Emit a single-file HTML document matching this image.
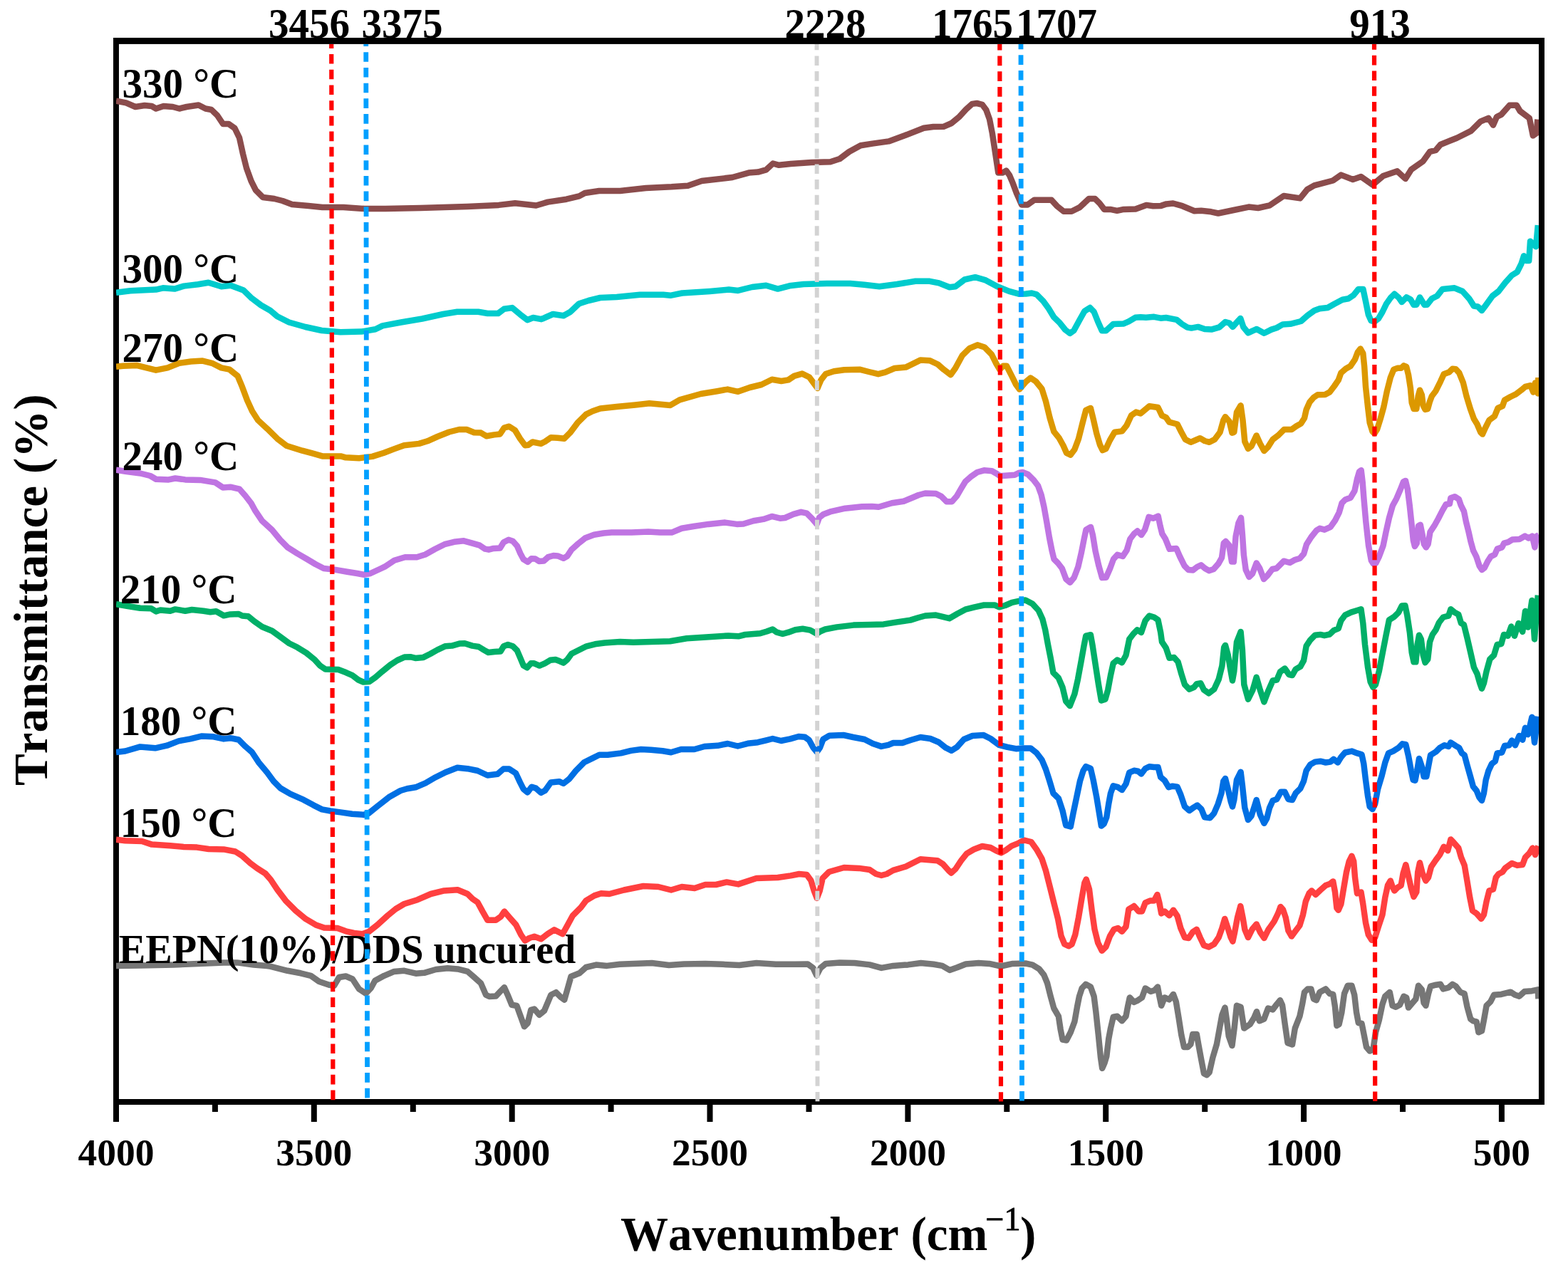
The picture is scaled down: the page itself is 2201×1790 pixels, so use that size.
<!DOCTYPE html>
<html lang="en"><head><meta charset="utf-8"><title>FTIR spectra</title>
<style>
html,body{margin:0;padding:0;background:#fff;overflow:hidden;}
svg{display:block;}
text{font-family:"Liberation Serif","Times New Roman",serif;font-weight:bold;fill:#000;font-kerning:none;}
.tk{font-size:53.5px;text-anchor:middle;}
.lb{font-size:57px;}
.ax{font-size:67px;}
.ay{font-size:67.1px;text-anchor:middle;}
#curves polyline{fill:none;stroke-linejoin:round;stroke-linecap:butt;}
</style></head><body>
<svg width="2201" height="1790" viewBox="0 0 2201 1790">
<rect width="2201" height="1790" fill="#fff"/>
<g id="frame" fill="#000"><rect x="159" y="53" width="2009" height="8.9"/><rect x="159" y="1543" width="2009" height="8"/><rect x="159" y="53" width="7.95" height="1498"/><rect x="2159.95" y="53" width="8.05" height="1498"/></g>
<clipPath id="curveclip"><rect x="163" y="57" width="1997" height="1490"/></clipPath>
<g id="curves" clip-path="url(#curveclip)">
<polyline points="163,1356.1 196.8,1355.4 243.7,1354.5 290.5,1352.6 314,1351.4 332.7,1351.4 356,1354.5 374.8,1356.1 380,1356.9 403.4,1362.8 422,1366.3 436.2,1369.8 447.9,1378 462,1382.7 469,1383.8 476,1372 485.4,1370.5 494.8,1374.5 504,1388.5 513.5,1394.8 520.5,1387.4 526.4,1376.8 539.3,1369.8 553.3,1363.9 567.4,1362.8 583.7,1366.7 595.5,1365.8 611.9,1361 628.2,1359.3 642.3,1360.4 656.3,1363.9 665.7,1372 675,1380.3 682,1396.7 686.8,1399 696,1398.6 703.2,1390.9 707.9,1386.2 712.6,1396.7 718.4,1410.8 725.4,1412 731.3,1428.3 736,1441.2 740.7,1436.5 745.3,1417.8 750,1416.6 757,1424.8 764,1419 773.4,1396.7 780.5,1393.2 787.5,1400.2 792.2,1403.7 796.9,1387.4 801.5,1371 813.3,1366.3 822.6,1358 836.7,1354.6 852,1355.9 870,1353.8 915,1352 939,1355 960,1353.5 990,1352.9 1013.9,1353.8 1037.8,1355 1061.8,1352 1088.8,1353.8 1115.8,1353.8 1133.8,1353.5 1141.3,1358.9 1146.3,1369.4 1151.8,1358.9 1159.2,1352.9 1178.7,1351.4 1199.7,1352 1220.7,1354.4 1237.2,1358.9 1253.7,1355.9 1274.7,1354.4 1292.6,1352 1310.6,1353.8 1322.6,1355.9 1333,1361.9 1343.6,1358.3 1355.6,1353.5 1373.6,1352 1388.6,1352.9 1405,1356.5 1421.5,1352.9 1439.5,1352.5 1449.4,1354.6 1458.7,1360.3 1465.3,1368.7 1470,1380 1474.7,1398.7 1479.3,1415.5 1485.9,1426.8 1488.7,1445.5 1491.5,1459.5 1497,1460.5 1502.8,1449.3 1508.4,1434.3 1512,1413.7 1515,1398.7 1518.7,1387.4 1524,1381.8 1530.9,1385.5 1535.6,1398.7 1538.4,1421 1542,1454.9 1545,1484.9 1547.2,1499.8 1550.5,1492.3 1553.3,1483 1556.2,1458.6 1559,1443.6 1562.7,1427.7 1568.3,1426.8 1574.9,1433.3 1580.5,1426.8 1583.3,1411.8 1585.8,1400.5 1591.8,1407 1597.4,1404.3 1603,1400.5 1607.7,1387.4 1615.2,1392 1620.8,1390.2 1625,1385.5 1627.4,1398.7 1630.2,1411.8 1634.8,1400.5 1641.4,1403.3 1647,1395.9 1650.8,1406.2 1654.5,1428.6 1658.3,1453 1662,1469.9 1667.6,1469.9 1671.4,1466 1674.2,1452 1679.8,1452 1682.6,1468 1686.4,1488.6 1690,1507.3 1693.9,1509.2 1697.6,1505.5 1702.3,1484.9 1707.9,1466 1712.6,1439.9 1715.4,1424.9 1719.5,1414.6 1722,1432.4 1724.8,1454.9 1729.5,1468 1732.6,1443.6 1736,1411.8 1741.6,1413.7 1743.9,1428.6 1746.3,1443.6 1754.7,1438 1760.4,1428.6 1764,1420.2 1767.9,1433.3 1774.4,1430.5 1780,1415.5 1786.6,1417.4 1792.2,1409.9 1796.9,1404.3 1800,1411 1803.7,1438 1807.5,1464.2 1814,1466.5 1817.8,1443.6 1824.4,1426.8 1828,1409.9 1831,1393 1835.6,1388.4 1840.3,1388.4 1844,1402.4 1847.8,1404.3 1852.5,1393 1860.9,1388.4 1866.5,1395 1871.2,1395.9 1874,1413.7 1876.4,1439.9 1879.6,1438 1883.4,1421 1887,1395 1891.8,1383.7 1897.4,1383.7 1901.2,1396.8 1904,1421 1906.8,1436 1911.5,1437 1914.3,1451 1918,1469.9 1922.7,1475.5 1927.4,1473.6 1931,1449.3 1935.8,1432.4 1940.5,1409.9 1944.3,1398.7 1950.8,1393 1954.6,1411.8 1959.3,1413.7 1964.9,1410.8 1970.5,1398.7 1974.2,1400.5 1977,1414.6 1982.7,1408 1987.4,1402.4 1991,1383.7 1995.8,1389.3 1998.6,1408 2001.4,1411.8 2005,1395 2008,1384.6 2015.5,1382.7 2022,1381.8 2025.8,1388.4 2033.3,1386.5 2038.9,1381.8 2043.6,1384.6 2050,1393 2055.7,1395 2059.5,1413.7 2064.2,1430.5 2067.9,1433.3 2072.6,1434.3 2075.4,1449.3 2080,1447.4 2082.9,1432.4 2086.6,1411.8 2092.3,1406.2 2097,1396.8 2107.3,1395.9 2120.4,1392.7 2126.9,1396.8 2132.6,1398.7 2140,1392 2150.4,1391.2 2158.8,1389.3 2159.4,1402.4" stroke="#767676" stroke-width="8.5"/>
<polyline points="163,1178.6 175.8,1180.2 199.2,1181 213.2,1185.6 239,1187.3 257.7,1188.9 276.5,1189.6 292.9,1192 314,1192.4 330.3,1195.5 339.7,1201.3 351.4,1211.9 360.8,1218.9 372.5,1226.4 380,1235 389.4,1249.2 401,1264.4 415,1278.5 429.2,1290.2 443.2,1298.4 455,1302.6 473.7,1303 485.4,1307.3 497,1310 508.8,1311.2 518.2,1307.7 529.9,1298.4 544,1285.5 555.6,1276 567.4,1269 586,1263.2 604.8,1255 623.5,1250.4 642.3,1249.2 656.3,1255 663.4,1262 670.4,1266.7 677.4,1279.6 684.4,1291.8 696,1291.8 703.2,1286.7 707.9,1279.6 714.9,1287.8 724.3,1298.4 731.3,1312.4 737,1320.6 743,1317 750,1314.8 759.4,1318.3 768.8,1311.2 778,1305.4 789.8,1311.2 796.9,1298.4 803.9,1285.5 815.6,1273.8 822.6,1264.4 834.3,1257.4 843.7,1254.3 855.4,1255 876,1249.5 903,1244 924,1245 942,1249.5 957,1245 975,1247 990,1242 1005,1242 1020,1238.4 1036.3,1241.4 1061.8,1233 1091.8,1232 1109.8,1229.4 1121.8,1227 1132.3,1227.9 1138.3,1236 1142.8,1251 1146.7,1260.9 1150.6,1251 1154.7,1233 1163.7,1224 1184.7,1218 1205.7,1218.9 1220.7,1221 1229.7,1227 1237.2,1229 1244.7,1227 1253.7,1221.9 1271.7,1216.5 1292,1206.2 1304,1207.2 1315.8,1208.2 1323.6,1213.1 1331.5,1222 1335.4,1225.5 1341.3,1220 1349.2,1208.2 1357,1198.4 1367,1192.5 1378.7,1188 1390.5,1190 1398.4,1194.4 1405.3,1197.4 1412,1193.5 1420,1187.6 1429.9,1183.6 1437.7,1179.5 1447.5,1182 1455,1192.4 1462.5,1205.6 1468,1222.4 1473.7,1244.9 1479.3,1267.4 1485,1289.9 1489.6,1314.2 1494.3,1325.5 1500,1328.3 1504.6,1325.5 1509.3,1312.3 1514,1288 1518.7,1259.9 1522.4,1239.3 1524.7,1234.6 1529,1248.6 1532.7,1278.6 1536.5,1304.8 1541.2,1323.6 1546.8,1334.8 1552.4,1329.2 1558,1314.2 1563.7,1304.8 1569.3,1303 1574.9,1307.7 1580.5,1301 1584.3,1276.7 1591.8,1272 1598.3,1279.5 1603,1279.5 1607.7,1267.4 1614.2,1264.6 1619.9,1264.6 1624.5,1256 1627.4,1267.4 1630.2,1282.4 1634.8,1279.5 1641.4,1285.2 1647,1277.7 1652.6,1286 1657.3,1303 1663,1316 1668.6,1317 1674.2,1308.6 1679.8,1304.8 1684.5,1316 1690,1327.3 1696.7,1329.6 1704.2,1325.5 1710.7,1316 1715.4,1303 1719.2,1289.9 1722.9,1301 1727.6,1316 1730.4,1321.7 1733.2,1308.6 1737,1288 1741.3,1272 1744.5,1288 1747.3,1304.8 1752,1316 1757.6,1304.8 1763.7,1297.4 1768.8,1308.6 1774.4,1317 1780,1305.8 1788.5,1293.6 1794,1282.4 1797.5,1273 1801,1277 1804.7,1288 1808.4,1306.7 1813,1314.5 1818.7,1306.7 1824.4,1299.2 1829,1284.2 1832.8,1265.5 1837.5,1254.3 1841.2,1250.5 1846.8,1256 1853.4,1249.6 1860.9,1243 1866.5,1241 1871.2,1237.4 1874,1252.4 1876.4,1274.9 1878.7,1277.7 1882.4,1269.3 1886.2,1246.8 1890,1224.3 1893.7,1209.3 1897.4,1201.8 1900.2,1209.3 1902,1231.8 1905,1254.3 1910.5,1252.4 1913.3,1269.3 1917,1295.5 1920.8,1312.3 1925.5,1319.8 1930.2,1316 1934.9,1301 1940.5,1284.2 1944.3,1259.9 1948,1243 1951.8,1236.5 1954.6,1244.9 1957.4,1250.5 1962,1245.8 1966.7,1243 1969.6,1226 1973.3,1214 1977,1229.9 1980.8,1246.8 1984.5,1258.9 1988.3,1252.4 1990.2,1224.3 1993,1211.2 1996.7,1226 2001.4,1236.5 2005,1231.8 2009,1216.8 2015.5,1207.4 2021,1200 2026.7,1188.7 2032.3,1194.3 2036.4,1178.4 2040.7,1183 2047.3,1190.6 2051,1203.7 2055.7,1214.9 2059.5,1237.4 2063.2,1259.9 2067,1278.6 2072.6,1282.4 2079.2,1289.9 2082.9,1284.2 2086.6,1265.5 2090.4,1250.5 2096,1248.6 2099.8,1231.8 2103.5,1227 2109,1224.3 2112.9,1218.7 2122.2,1212 2129.7,1214.9 2137.2,1214 2141,1203.7 2146.6,1198 2151.3,1190.6 2155,1200 2159.4,1187.8" stroke="#FF4040" stroke-width="8.5"/>
<polyline points="163,1056 175.8,1054.5 196.8,1048.4 217.9,1050.3 234.3,1046.7 250.7,1040.4 267,1037.4 283.5,1033.4 299.9,1034.3 314,1037.4 323.3,1036.2 335,1038.5 344.4,1047.9 353.7,1056 363,1070.2 374.8,1084.2 384.2,1097 393.6,1106.5 407.6,1114.7 426.3,1122.9 440.4,1130.6 452,1136.4 463.8,1138.5 477.9,1140.4 494.3,1142.8 510.7,1143.9 517.7,1141.6 529.4,1132.2 545.8,1119.3 562.2,1110 571.5,1107.2 583.3,1105.3 597.3,1099.4 611.4,1091.2 625.4,1084.2 642,1077.8 656.2,1079.2 670.3,1082 684.3,1088.5 698.4,1086.7 706.6,1079.6 714.8,1079.6 724,1085.5 730,1098.4 734.7,1107.7 740.5,1112.4 746.4,1104.7 752.2,1106.6 759.3,1112.9 765,1110 773.3,1098.4 785,1097.2 790.9,1100 799,1093.7 808.4,1082 820,1070.3 831.9,1064.4 841.2,1059.7 853,1059.7 871.7,1057.4 885.7,1053.9 899.8,1052 913.8,1052.7 930.2,1054.3 941.9,1056.2 956,1052 974.7,1052 988.8,1048 1007.5,1046.8 1021.5,1044 1035.6,1047.5 1049.6,1043.8 1063.7,1042.2 1075.4,1039.3 1084.6,1037 1096.4,1040 1109.2,1037.4 1121,1034 1129.8,1034.7 1135.7,1039 1141.6,1049.8 1146.6,1055.7 1150.9,1049.8 1155.4,1038 1164.3,1032.7 1184,1032 1197.7,1035 1213.5,1038 1225.3,1044 1237,1047.9 1246.9,1045.9 1253.8,1043 1266.6,1043 1278.4,1039 1292,1035 1305.9,1037 1317.7,1042 1327.6,1049.8 1335.4,1053.8 1343.3,1048.9 1353,1038 1365,1033 1380.7,1032.1 1390.5,1037 1402.3,1045.9 1414,1048.9 1426,1051.2 1435.8,1050.4 1446.6,1050.4 1455,1057 1462.5,1066.8 1468,1080 1472.8,1094.9 1478.4,1113.6 1485.9,1121 1491.5,1138 1496.2,1158.6 1502.8,1160.5 1506.5,1141.7 1511.2,1119.3 1515.9,1096.8 1520.6,1081.8 1524.3,1076.2 1530.9,1079 1534.6,1094.9 1539.3,1119.3 1543,1141.7 1545.9,1159.5 1549.6,1156.7 1553.3,1147.4 1556.2,1128.6 1559,1113.6 1562.7,1103.3 1569.3,1105.2 1574.9,1109 1580.5,1100.5 1585.2,1084.6 1591.8,1081.8 1597.4,1082.7 1602,1086.5 1607.7,1079 1613.3,1076.2 1619.9,1077 1625.5,1077 1629.2,1091.1 1634.8,1095.8 1640.5,1105.2 1646,1103.7 1652.6,1104.6 1657.3,1115.5 1663,1132.4 1669.5,1138 1676,1133.3 1680.7,1130.5 1686.4,1136 1691,1147.4 1698.5,1148.3 1704.2,1141.7 1709.8,1128.6 1714.5,1113.6 1717.3,1096.8 1720,1093 1723.8,1108 1727.6,1124.9 1730,1132.4 1732.3,1123 1736,1094.9 1741.6,1083.7 1743.9,1102.4 1747.3,1134.2 1752,1151 1756.6,1145.5 1763.7,1123 1768.8,1143.6 1774.4,1155.8 1778.2,1149.2 1782,1134.2 1786.6,1124 1792.2,1122 1797.9,1111.8 1803.5,1111.8 1808.4,1122 1814,1123 1818.7,1113.6 1825.3,1107 1830,1096.8 1833.7,1081.8 1839.3,1073.4 1845.9,1069.6 1853.4,1068.7 1860.9,1070.5 1867.4,1069.6 1872,1065.9 1877.8,1070.5 1882.4,1063 1888,1056.5 1897.4,1054.6 1905,1057.4 1911.5,1059.3 1914.3,1072.4 1917,1094.9 1920,1117.4 1922.7,1132.4 1926.5,1136 1930.2,1128.6 1934,1108 1939.6,1089.3 1944.3,1070.5 1949,1057.4 1955.5,1054.6 1963,1049.9 1968.6,1044.3 1973.3,1045.2 1977,1061.2 1980.8,1081.8 1983.6,1094.9 1986.4,1095.8 1989.2,1081.8 1992,1064.9 1995.8,1076.2 1998.6,1090.2 2002.3,1090.2 2005,1076.2 2008,1060.2 2015.5,1055.5 2021,1049.9 2027.6,1046.2 2033.3,1048 2036.4,1042.4 2042.6,1046.6 2048.2,1049.9 2052,1057.4 2055.7,1060.2 2059.5,1074.3 2064.2,1091 2067.9,1104.3 2072.6,1109.9 2076.4,1119.3 2080,1123.9 2082.9,1113.6 2085.7,1094.9 2089.5,1081.8 2094,1072.4 2098.8,1068.7 2101.6,1057.4 2108.2,1056.5 2112,1047 2118.5,1046.2 2122.2,1039.6 2127,1046.2 2132.6,1033 2137.2,1038.7 2141,1021.8 2144.7,1031.2 2150.4,1006.8 2154,1042.4 2158.8,1005.9" stroke="#006FE3" stroke-width="8.5"/>
<polyline points="163,848.3 178,850.7 196.8,853.7 212,854.2 219,858.4 225,856.5 239,857.7 246,855.4 260,857.7 269.4,856 285.8,857.7 295.2,859.3 303.4,858.2 314,864.3 323.3,862.4 335,862 340,864.6 348.4,865.3 356.9,872.3 368,880 382,885.7 393.4,894 406,903.2 417.3,908.8 430,916.6 441.2,925.7 449.6,934.8 456.6,939.5 474.9,940 486,944.3 494.6,948.2 503,954.5 510,957.6 518.4,956.9 526.9,951 536.7,942.6 548,933.4 557.8,927 567.6,922.6 576,922.2 583,923.9 594.3,922.9 604,918 614,912.4 625.2,907.2 634.4,906.6 644.9,903.6 652.4,903.2 662.9,906.6 671.9,908 679.4,912.6 685.4,916 694.4,915.1 702.6,914.5 707,907.3 713,905 719.9,907.3 725.9,913.3 730.4,923.8 734.8,934.3 740,937.3 745.3,931.3 749.8,931.3 757.3,934.6 764.8,931.3 772.3,926.8 779.8,926 785.8,928.3 791,930.6 796.3,926 802.3,917.8 811.3,913.3 823.3,907.3 835.3,904.3 848.7,902.5 870.3,901 889,901.7 940.5,900.3 963.9,896.3 987.4,894.7 1022.5,892.4 1036.5,893.3 1045.9,891 1067,889.3 1076.3,886.5 1084.5,883.5 1090.4,887.7 1098.6,890 1106.8,887.7 1116.2,884.2 1126.7,882.8 1137.2,884.6 1146.6,889.8 1151.3,886.5 1158.3,883.5 1174.7,880.4 1198,877.6 1221.5,876.9 1240.3,876.4 1259,873.4 1277.8,870.6 1289.5,867 1298.7,864.5 1313.7,863.6 1321.2,865.4 1332.5,868.2 1343.7,861.7 1355,855.7 1368,852.3 1381.2,849.5 1396.2,849.5 1402.7,852.3 1411,850 1420.5,845.8 1429.9,843.9 1439.3,842.5 1449.4,847.8 1457.8,857 1463.4,869.3 1467.2,884.3 1471,905 1474.7,923.7 1478.4,944.3 1485.9,951.8 1491.5,965 1496.2,984.5 1501.8,991 1508.4,974.2 1513,953.6 1517.8,927.4 1521.5,906.8 1524.3,892.7 1530.9,891.2 1533.7,906.8 1537.4,931.2 1542,961 1545.9,983.6 1551.5,981.7 1555.2,968.6 1559,948 1562.7,931.2 1568.3,926.5 1574.9,930.2 1580.5,920 1585.2,897.4 1590.8,890 1596.4,884.3 1602,888 1607.7,871.2 1613.3,864.6 1619.9,866.5 1625.5,870.3 1629.2,888 1631,901.2 1636.7,909.6 1641.4,923.7 1648,923 1653.6,929.3 1658.3,946 1663,961 1669.5,967.7 1676,964.9 1679.8,960.2 1685.4,959.3 1690,968.6 1696.7,973.3 1704.2,967.7 1710.7,953.6 1715.4,934.9 1718.2,908.7 1720,905.9 1723.8,919.9 1727.6,942.4 1730,955.5 1732.3,942.4 1736,901.2 1741.6,887 1743.9,912.4 1746.3,961 1752,981.7 1758.5,968.6 1763.7,950.8 1768.8,968.6 1774.4,985.5 1780,970.5 1786.6,955.5 1792.2,954.6 1796.9,943.3 1803.5,938.5 1809.4,947 1814,948 1818.7,939.6 1825.3,935.8 1830,927.4 1833.7,906.8 1839.3,898.4 1845.9,891.8 1853.4,890.9 1859,892.2 1866.5,890.5 1872,885.2 1878.7,882.4 1882.4,871.2 1888,863.7 1896.5,859.6 1905,857 1910.5,855.3 1913.3,875 1916,905 1920,936.8 1923.7,957.4 1927.4,964.9 1931,961 1935.8,942.4 1940.5,918 1945.2,893.7 1949.9,870.3 1957.4,865.6 1963,860 1967.7,850.6 1972.4,850.2 1975.2,863.7 1978.9,888 1981.7,916 1984.5,929.3 1987.4,929.3 1989.6,905 1992,891.8 1994.8,897.4 1997.7,919.9 2000.5,930.2 2004.2,925.5 2007,901.2 2010.8,890.9 2015.5,884.3 2020,874 2025.8,866.5 2033.3,864.6 2036.4,855.3 2041.7,859.6 2047.3,862.8 2051,875 2054.8,876.8 2059.5,895.6 2064.2,916 2068.9,936.8 2073.5,946 2077.3,959.3 2080,966.7 2082.9,959.3 2086.6,942.4 2091.3,925.5 2097,919.9 2101.6,905 2107.3,904 2111,890.9 2116.6,892.7 2121.3,879.6 2126,892.7 2131.6,875 2137.2,887 2141,858 2144.7,880.6 2150.4,843 2154,897.4 2158.8,835.6" stroke="#00AF68" stroke-width="8.5"/>
<polyline points="163,659.8 175.8,661.7 196.8,664.5 210.9,668 219,672.7 236.7,673.4 246,671.5 260,673.4 281,673.9 302.2,677.4 312.8,684.4 323.3,683.7 336.2,686.7 344.4,696 352.6,706.6 358.4,717.2 367.8,731.2 381.9,744 393.6,758.2 404,768.7 417,776.9 431,785 442.7,792 454.4,798 470.8,799.9 487.2,802.7 501.3,805 510.7,806.7 520,805 534,798.5 540,795.7 553.5,786.7 568.5,782.2 585,782.2 597,778.5 610.4,771 624,764.2 637.4,760.8 651,759.3 662.9,762.7 673.4,765.7 680.9,770.7 686,771.7 692.9,769.9 701.9,769.5 707,761.2 713.9,757.8 719.9,759.7 725.9,766.5 730.4,777 734.8,785.2 740.8,789 746,784.2 751.3,784.5 756.6,787.9 763.3,787.5 769.3,782.2 776.8,780 782.8,780.4 791,783.7 796.3,780.7 802.3,771.7 811.3,763.5 821.8,755.2 833.8,750.7 847.2,748.5 858.5,747.6 886.7,747.6 910,746.5 926.5,747.6 942.9,747.6 956.9,741.8 973.3,739 994.4,735.9 1017.8,733.6 1034.2,735.9 1043.6,735.5 1057.6,731.2 1071.7,728.9 1083.4,724.9 1095,727.7 1102,727 1113.8,721.9 1124.4,718.8 1132.6,720.7 1139.6,727.7 1146.6,735.9 1150,726.6 1156,721.9 1165.3,718.4 1186.4,713.7 1209.8,711.3 1223.9,710.9 1233.3,711.8 1252,706.2 1268.4,703.8 1282.4,698 1289.4,695 1298.7,692.5 1313.7,693 1321.2,696.8 1328.7,704.3 1336.2,704.3 1342.8,696.8 1349.3,685.6 1355,676.2 1362.4,669.6 1371.8,663 1381.2,660.3 1392.4,661.2 1399,665 1403.7,668.3 1411,667.8 1424.3,666.8 1429.9,664 1435.5,663 1443,665.9 1450.5,673.4 1457,681.8 1461.7,694.9 1465.5,711.8 1469.2,732.4 1473,754.9 1476.7,773.6 1479.5,784.9 1485,790.5 1490.8,798 1496.4,813 1502,817.7 1507.6,811 1513.3,796 1518,775.5 1521.7,756.8 1524.5,743.7 1531,739.9 1533.9,751 1537.6,773.6 1542.3,794.2 1547,811 1552.6,810.7 1558.2,798 1563,784.9 1568.5,778.9 1576,781 1581.6,772.7 1586.3,756.8 1592,749.3 1596.6,745.5 1602.2,751 1607,743.7 1612.6,725.9 1619,727.7 1625.7,724.5 1628.5,738 1631.3,749.3 1636,756.8 1641.6,770.8 1651.2,769.9 1656,781 1662.5,794.2 1668,799.9 1674.7,800.4 1680.3,796 1685.9,793.3 1691.5,798 1697,801.2 1703.7,798.9 1710.3,791.4 1715,783 1717.8,762.4 1720.6,760 1725.2,765.2 1729,788.6 1731.8,788.6 1734.6,753 1738.4,734.3 1742,726.8 1744,751 1745.9,779.3 1748.7,799.9 1753.4,810 1758,805.5 1763.7,790.5 1768.3,798 1774,813 1779.6,807.4 1786,799 1791.8,798 1802,787.7 1810.5,790 1818,785.8 1824.5,784 1830.2,777.4 1834,764.3 1840.5,754 1848,744.6 1852.6,741.8 1859.2,743.7 1867.6,739.9 1874.2,730.5 1879.8,719.3 1883.6,706.2 1888.3,701.5 1895.7,698.7 1901.4,689.3 1905,672.5 1908,662.2 1910.7,660.3 1912.6,676.2 1914.5,700.6 1917.3,732.4 1921,766 1924.8,786.7 1927.6,791.4 1931.3,790.5 1936,781 1941.6,766 1945.4,747.4 1950,726.8 1954.8,710 1960.4,699.7 1965.8,687 1970,676.3 1973,674.9 1975.8,686.4 1978.7,709.4 1981.6,736.8 1983.8,758.4 1985.9,767 1988.8,762.7 1991,738.2 1993.8,736.8 1996.7,751.2 1998.9,764 2001.8,768.4 2004.6,764 2007.5,746.8 2013.3,738.2 2019,728 2024.8,716.6 2029.8,708 2034.9,707.3 2036.3,699.3 2042,697.2 2047.8,700.8 2050.7,709.4 2055,718 2057.9,732.4 2061.5,746.8 2064.4,759.8 2068,772.8 2072.3,781.4 2076.6,794.4 2080.2,800 2083.8,797.2 2088,788.6 2092.5,781.4 2098.2,778.5 2101.8,770.6 2108.3,768.4 2111.2,762.7 2117,761.2 2122.7,757.6 2132.8,756.9 2140.7,752.6 2145.7,755.5 2150.8,752.6 2154.4,768.4 2157.2,752.6 2160,751.2" stroke="#BF74E2" stroke-width="8.5"/>
<polyline points="163,514.8 173,513.8 192.6,513.1 218.9,519.7 235.2,516.4 251.6,509.8 268,507.5 284.4,506.6 297.5,509.8 310.7,516.4 322,518.7 333.6,527.9 340,543.2 347,562 354,577.2 362.2,590 375,601.8 389.2,615.8 402,625.7 424.3,632.7 438.4,636.4 452.4,640.4 478.2,640.4 485.2,642.3 504,643.2 522.7,640.9 539,635.7 553,630.4 567.2,625.2 588.2,622.9 600,619.3 614,613 630.4,606.5 644.4,603 655,603 665.5,607.2 675,607.6 683,612.3 693.6,610.4 701.8,609.5 707.7,600.6 714.7,598.7 722.9,604 730,615.8 737,625.2 741.6,624.7 747.5,620.5 759.2,622.9 765,620 773.3,614.2 782.6,614.7 792,615.8 800.2,607.6 810.7,593.6 822.4,581.9 831.8,577.2 842.6,573.4 865.6,571 891.8,568.5 911.5,566.2 941,568.9 954,561.3 983.6,553 1006.6,549.2 1021.3,546.6 1036,549.8 1052.5,544 1068.9,540 1083.6,532.8 1096.7,535 1106.6,533.4 1114.8,527.9 1126,524.6 1136,529.5 1142.6,538.4 1147.5,545 1152.5,533.4 1159,525 1170.5,521.3 1185,519.3 1206.6,518.7 1219.7,522 1232.8,525.2 1242.6,522.6 1255.7,517 1272,515.4 1291.8,505.6 1305,506.2 1316.4,511.5 1324.6,518.7 1334.4,526.2 1341,517 1350.8,499 1360.7,489.2 1372,484.3 1382,487.5 1391.8,497.4 1398.4,510.5 1403.3,518.7 1408.2,513.8 1413,513.8 1419.7,526.9 1426.2,540 1431,546.6 1440,536 1446.6,530.5 1454,535.5 1462.5,546 1468,563.5 1473.7,587 1479.3,605.8 1486.8,615.2 1492.5,625.5 1497,635.8 1502.8,638.6 1508.4,631 1514,616 1519.6,593.6 1524.3,575.8 1530.9,573 1534.6,588 1539.3,608.6 1544,624.5 1547.7,632 1552.4,630 1558,618 1564.6,606.7 1575,605.4 1581.4,597.4 1588,583.3 1594.6,578.6 1601,580.5 1606.7,575.8 1613.3,570.2 1625.5,572 1631,583.3 1636.7,586 1641.4,592.7 1652.6,595.5 1658.3,606.7 1663.9,617 1671.4,620.8 1678,618 1684.5,615.2 1691,619 1697.6,620.8 1705,617 1712.6,606.7 1717.3,589.9 1720,585.2 1725.7,591.8 1729.5,607.7 1732.3,606.7 1736,578.6 1741.6,569.3 1744.5,589.9 1747.3,619.9 1752,630 1756.6,626.4 1763.7,611.4 1768.8,622.7 1774.4,633 1780,627.4 1786.6,617 1794,611.4 1802.5,603 1813,603 1819.7,598.3 1826.2,594.6 1831,587 1833.7,575 1838.4,564.6 1844,558 1849.6,554.3 1860,554 1866.5,550.5 1873,542 1878.7,533.7 1882.4,523.4 1889,517.8 1895.6,514 1902,504.6 1905.9,494.3 1909.6,489.6 1913.3,496.2 1915.2,515 1917,543 1920,571 1922.7,593.6 1926.5,605.8 1929.3,608.6 1933,603 1937.7,588 1942.4,571 1947,548.7 1951.8,530 1956.4,518.7 1962,516.8 1966.7,516.8 1970.5,513.4 1974.2,515 1977,526.2 1979.9,544.9 1981.7,565.5 1984.5,574 1988.3,574 1990.7,556.2 1993,547.7 1995.8,554.3 1997.7,569.3 2000.5,574.9 2004.2,574 2007,563.7 2009.8,556.2 2015.5,548.7 2022,535.6 2026.7,525.2 2034.2,522.4 2038.9,517.8 2043.6,518.3 2048.2,523.4 2053.9,537.4 2058.5,556.2 2064.2,574.9 2068.9,588 2073.5,595.5 2078.2,606.7 2081,609.6 2084.8,601 2090.4,589.9 2097.9,584.3 2102.6,573 2109,570.2 2112,561.8 2120.4,557 2127.9,553.4 2135.4,547.7 2141,543 2148.5,541.2 2152.2,550.5 2155,537.4 2158.8,552.4 2159.4,530" stroke="#DC9800" stroke-width="8.5"/>
<polyline points="163,410.8 182.8,408.2 218.9,406.6 228.7,404.3 245,405.6 258,401.6 277.9,399.3 292.6,396.7 310.7,402.3 323.8,400.7 341.8,407.5 353.3,418.7 366.4,428.5 379.5,436 389.3,444.3 405.7,452.5 428.7,459 451.6,464 477.9,466.2 507.4,465.6 527,462.3 536.9,457.4 563,452.5 592.6,447.5 622,441 641.8,437.7 671.3,437.7 684.4,440 699.2,440 707.4,433.8 718.9,432.1 730.3,441.6 740.2,449.2 748.4,446 759.8,448.2 776.2,441 791,443.3 800.8,437.7 813,426.2 826.2,422 842.6,418 865.6,417 898.4,413.8 931,413.8 941,414.8 957.4,411.5 996.7,408.9 1023,406.6 1036,407.9 1055.7,403 1075.4,400.7 1091.8,405.6 1108.2,401.3 1127.9,399 1160.7,398 1193.4,398 1213,399.7 1234.4,402.3 1259,399 1285,394.8 1305,394.8 1318,397.4 1332.8,403.3 1341,402.3 1354,392.5 1368.9,389.2 1383.6,393.4 1400,402.3 1416.4,408.9 1431,412.8 1440,412.5 1448.4,411.5 1455,413.3 1464.4,422.7 1471.9,433 1479.3,445.2 1487.8,453.6 1495.3,463 1501.8,468 1507.4,464 1515,449.9 1522.4,436.8 1530,432 1535.6,437.7 1541.2,451.8 1546.8,464.3 1552.4,464.3 1562.7,455 1576.8,454.6 1584.3,451.4 1593.6,445.8 1601,445.2 1608.6,445.8 1619.9,444.8 1629.2,446.7 1636.7,446 1651.7,448.9 1659.2,455 1666.7,459.6 1672.3,460.6 1681.7,458.9 1691,462 1700.4,462.6 1711.7,459.3 1720,452 1725.7,453.6 1730.4,458.9 1736,452.7 1741.3,447 1745.4,459.3 1752,467.3 1758.5,464.3 1764,462 1774.4,467.7 1784.7,462.6 1792.2,460.2 1800.6,455.4 1811.2,454.8 1826.2,451 1835.6,442.7 1845,436 1852.5,433.3 1863.7,432 1873,426.7 1884.3,420.7 1892.7,419.3 1900.2,414.2 1906.8,406 1913.4,406 1917,423 1920.8,441.7 1924.6,450.2 1929.3,451.5 1934.9,447.4 1940.5,438 1946,426.7 1951.8,418.3 1957.4,412.7 1963,417.4 1967.7,424 1974.2,417.4 1979.9,420.2 1984.5,428 1988.3,427.7 1993,417.4 1999.5,428 2003.3,427.7 2009.8,419.3 2017.3,415.5 2024.8,406 2041.7,404.3 2053,409 2062.3,419.3 2068.9,429.6 2074.5,430.5 2080,436 2084.8,429.6 2095,415.5 2103.5,409 2112.9,396.8 2122.2,386.5 2129.7,381.8 2135.4,370.5 2139,359.3 2142,365.9 2146.2,365.9 2148,338.7 2152.2,342.4 2156,346.2 2158.8,316.2" stroke="#00CBCC" stroke-width="8.5"/>
<polyline points="163,141.6 177,144.3 190,150 203,148 213,149 219,152.5 229.5,149 242.6,150 251.8,152.5 262,150 278.7,147.5 288.5,152.5 296.7,154 305,162 313,174 321,174 329.5,180 336,193.4 341,216 346,236 352.5,254 359,267 369,277 385,279 396.7,282 410,287 433,289 452.5,291 482,291 511.5,293 541,293 590,292 656,290 700,287.9 723,285.2 752.5,288.5 769,283.6 795,279.7 813,275.4 821,271 841,268 870.5,268 906.6,264 942.6,262.3 965.6,260.7 985,254 1028,249 1051,242.6 1064,241.6 1075.4,238.4 1085,229.5 1093.4,231.8 1110,230 1139,228 1165.6,227.2 1178.7,223 1192,213 1208,204.3 1224.6,201.6 1247.5,198.4 1270.5,190 1296.7,179.7 1310,178 1324.4,177.8 1335.6,173 1346.8,163.7 1356.2,153.4 1364.6,145.9 1371.2,145 1378.7,146.8 1384.3,154.3 1389,167.4 1392.7,186.2 1395.6,205 1398.4,223.7 1401.2,242.4 1407.7,242.4 1412.4,239.6 1417,246 1421.8,257.4 1427.4,272.4 1434,287.4 1442.4,287.4 1451.8,280.8 1476,280.8 1483.6,289.2 1493,296.7 1504.2,296.7 1515.5,291.1 1528.6,278.9 1537,278.9 1543.6,285.5 1550,293.9 1558.5,293.9 1568,295.8 1577.3,293.9 1594,293.5 1609,287.9 1618.5,289.2 1629.7,288.9 1637.2,286.4 1646.6,285.5 1659.7,289.2 1676.6,296.2 1686,295.8 1700,297.3 1710,299.5 1736.4,294 1752.8,290.6 1766,292 1782.4,288.3 1802,275 1825,278.4 1835,266 1844.8,260.4 1871,253.5 1882.5,245.6 1899,252 1910.4,248 1926.8,259.4 1941.6,247 1961.3,240.3 1972.8,251 1981,238 1997.4,226.6 2007.3,212.8 2015.5,210.8 2022,203 2045,193.7 2064.7,183.9 2078,170.7 2089.4,165.8 2096,175.7 2101,164 2107.4,160.9 2119,147.8 2128.8,147.8 2133.7,156 2146.8,165.8 2151.8,190.4 2156.7,187 2158.3,167.5" stroke="#8B4C4C" stroke-width="8.5"/>
</g>
<g id="labels">
<text class="lb" transform="translate(171.5,136.7) scale(1,1.03)">330 °C</text>
<text class="lb" transform="translate(171.5,397.3) scale(1,1.03)">300 °C</text>
<text class="lb" transform="translate(171.5,507.6) scale(1,1.03)">270 °C</text>
<text class="lb" transform="translate(171.5,659.7) scale(1,1.03)">240 °C</text>
<text class="lb" transform="translate(168.7,846.7) scale(1,1.03)">210 °C</text>
<text class="lb" transform="translate(168.7,1031.8) scale(1,1.03)">180 °C</text>
<text class="lb" transform="translate(168.7,1174.6) scale(1,1.03)">150 °C</text>
<text class="lb" transform="translate(166.8,1352) scale(1,1)" style="font-size:56.2px">EEPN(10%)/DDS uncured</text>
</g>
<clipPath id="plotclip"><rect x="167" y="61.9" width="1993" height="1484.6"/></clipPath>
<g id="vlines" clip-path="url(#plotclip)">
<line x1="465.2" y1="54.3" x2="467.4" y2="1548" stroke="#FF0000" stroke-width="6.2" stroke-dasharray="13.6 8.11"/>
<line x1="513.7" y1="51.5" x2="515.6" y2="1548" stroke="#00A0FF" stroke-width="6.8" stroke-dasharray="13.6 8.11"/>
<line x1="1146.5" y1="56.7" x2="1147.5" y2="1548" stroke="#D3D3D3" stroke-width="5.9" stroke-dasharray="13.6 8.11"/>
<line x1="1403.3" y1="56.9" x2="1405" y2="1548" stroke="#FF0000" stroke-width="6.2" stroke-dasharray="13.6 8.11"/>
<line x1="1433" y1="55.6" x2="1434.5" y2="1548" stroke="#00A0FF" stroke-width="6.8" stroke-dasharray="13.6 8.11"/>
<line x1="1929" y1="56.1" x2="1930.2" y2="1548" stroke="#FF0000" stroke-width="6.2" stroke-dasharray="13.6 8.11"/>
</g>
<g id="axes">
<line x1="163.0" y1="1547" x2="163.0" y2="1575" stroke="#000" stroke-width="8"/>
<text class="tk" transform="translate(163.0,1635.8) scale(1,0.97)">4000</text>
<line x1="301.9" y1="1547" x2="301.9" y2="1561" stroke="#000" stroke-width="8"/>
<line x1="440.8" y1="1547" x2="440.8" y2="1575" stroke="#000" stroke-width="8"/>
<text class="tk" transform="translate(440.8,1635.8) scale(1,0.97)">3500</text>
<line x1="579.8" y1="1547" x2="579.8" y2="1561" stroke="#000" stroke-width="8"/>
<line x1="718.7" y1="1547" x2="718.7" y2="1575" stroke="#000" stroke-width="8"/>
<text class="tk" transform="translate(718.7,1635.8) scale(1,0.97)">3000</text>
<line x1="857.6" y1="1547" x2="857.6" y2="1561" stroke="#000" stroke-width="8"/>
<line x1="996.5" y1="1547" x2="996.5" y2="1575" stroke="#000" stroke-width="8"/>
<text class="tk" transform="translate(996.5,1635.8) scale(1,0.97)">2500</text>
<line x1="1135.5" y1="1547" x2="1135.5" y2="1561" stroke="#000" stroke-width="8"/>
<line x1="1274.4" y1="1547" x2="1274.4" y2="1575" stroke="#000" stroke-width="8"/>
<text class="tk" transform="translate(1274.4,1635.8) scale(1,0.97)">2000</text>
<line x1="1413.3" y1="1547" x2="1413.3" y2="1561" stroke="#000" stroke-width="8"/>
<line x1="1552.2" y1="1547" x2="1552.2" y2="1575" stroke="#000" stroke-width="8"/>
<text class="tk" transform="translate(1552.2,1635.8) scale(1,0.97)">1500</text>
<line x1="1691.2" y1="1547" x2="1691.2" y2="1561" stroke="#000" stroke-width="8"/>
<line x1="1830.1" y1="1547" x2="1830.1" y2="1575" stroke="#000" stroke-width="8"/>
<text class="tk" transform="translate(1830.1,1635.8) scale(1,0.97)">1000</text>
<line x1="1969.0" y1="1547" x2="1969.0" y2="1561" stroke="#000" stroke-width="8"/>
<line x1="2107.9" y1="1547" x2="2107.9" y2="1575" stroke="#000" stroke-width="8"/>
<text class="tk" transform="translate(2107.9,1635.8) scale(1,0.97)">500</text>
<text class="lb" transform="translate(434,52.7) scale(1,1.03)" text-anchor="middle">3456</text>
<text class="lb" transform="translate(564.5,52.7) scale(1,1.03)" text-anchor="middle">3375</text>
<text class="lb" transform="translate(1158.5,52.7) scale(1,1.03)" text-anchor="middle">2228</text>
<text class="lb" transform="translate(1365,52.7) scale(1,1.03)" text-anchor="middle">1765</text>
<text class="lb" transform="translate(1483,52.7) scale(1,1.03)" text-anchor="middle">1707</text>
<text class="lb" transform="translate(1937,52.7) scale(1,1.03)" text-anchor="middle">913</text>
<text class="ax" x="871" y="1754.5">Wavenumber (cm<tspan dy="-27.5" dx="-3" font-size="46px" font-weight="normal" stroke="#000" stroke-width="0.9">−1</tspan><tspan dy="27.5" dx="-0.5">)</tspan></text>
<text class="ay" transform="translate(65.6,828.2) rotate(-90)">Transmittance (%)</text>
</g>
</svg></body></html>
